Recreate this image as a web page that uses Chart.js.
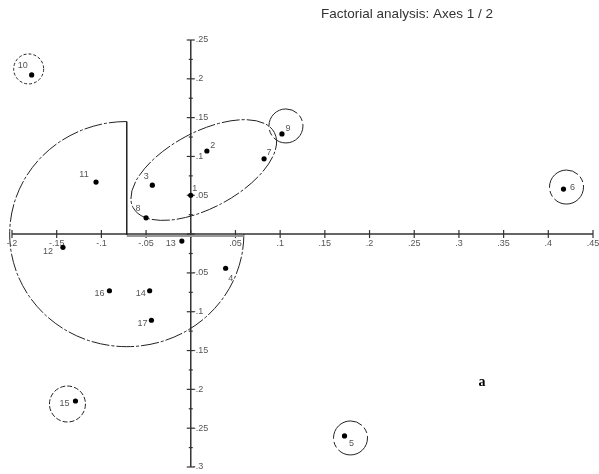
<!DOCTYPE html>
<html>
<head>
<meta charset="utf-8">
<script src="https://cdn.jsdelivr.net/npm/chart.js@4.4.0/dist/chart.umd.min.js"></script>
<style>
  html, body { margin: 0; padding: 0; background: #fff; }
  #wrap { position: relative; width: 599px; height: 474px; }
</style>
</head>
<body>
<div id="wrap"><canvas id="factChart"></canvas></div>
<script>
// Individuals projected on the first factorial plane
const pointNames = ['1', '2', '3', '4', '5', '6', '7', '8', '9', '10', '11', '12', '13', '14', '15', '16', '17'];
const axis1 = [0.000, 0.018, -0.043, 0.039, 0.172, 0.417, 0.082, -0.050, 0.102, -0.178, -0.106, -0.143, -0.010, -0.046, -0.129, -0.091, -0.044];
const axis2 = [0.050, 0.107, 0.063, -0.044, -0.260, 0.058, 0.097, 0.021, 0.129, 0.205, 0.067, -0.017, -0.009, -0.073, -0.215, -0.073, -0.111];

const xTickValues = [-0.2, -0.15, -0.1, -0.05, 0, 0.05, 0.1, 0.15, 0.2, 0.25, 0.3, 0.35, 0.4, 0.45];
const xTickLabels = ['-.2', '-.15', '-.1', '-.05', '', '.05', '.1', '.15', '.2', '.25', '.3', '.35', '.4', '.45'];
const yTickValues = [0.25, 0.2, 0.15, 0.1, 0.05, 0, -0.05, -0.1, -0.15, -0.2, -0.25, -0.3];
const yTickLabels = ['.25', '.2', '.15', '.1', '.05', '', '-.05', '-.1', '-.15', '-.2', '-.25', '-.3'];

// where each name sits relative to its dot (px)
const labelOffsets = {
  '1': [4, -7], '2': [6, -6], '3': [-6, -9], '4': [5, 10], '5': [7, 8],
  '6': [9, -2], '7': [5, -6], '8': [-8, -9], '9': [6, -5], '10': [-9, -9],
  '11': [-12, -8], '12': [-15, 4], '13': [-11, 2], '14': [-9, 3], '15': [-11, 3],
  '16': [-10, 3], '17': [-9, 3]
};

// outliers ringed by a small circle: [name, dx, dy, radius, dash]
const rings = [
  ['10', -3, -6, 15, [3, 2]],
  ['9', 4, -8, 17, [40, 3, 6, 3]],
  ['6', 3, -2, 17, [40, 3, 6, 3]],
  ['15', -8, 3, 18, [5, 2]],
  ['5', 6, 2, 17, [40, 3, 6, 3]]
];

const groupEllipse = { x: 0.0145, y: 0.0825, rx: 80, ry: 38, angle: -28 };
const groupSector = { x: -0.0716, y: 0, rx: 0.131, ry: 0.145 };

const pointData = pointNames.map((n, i) => ({ x: axis1[i], y: axis2[i] }));

function findLabel(values, labels, v) {
  for (let i = 0; i < values.length; i++) {
    if (Math.abs(values[i] - v) < 1e-6) return labels[i];
  }
  return null;
}

const planPlugin = {
  id: 'planPlugin',
  beforeDatasetsDraw(chart) {
    const ctx = chart.ctx;
    const xs = chart.scales.x, ys = chart.scales.y;
    const x0 = xs.getPixelForValue(0), y0 = ys.getPixelForValue(0);
    ctx.save();

    // axes crossing at the origin
    ctx.strokeStyle = '#333';
    ctx.lineWidth = 1.5;
    ctx.beginPath();
    ctx.moveTo(xs.getPixelForValue(xs.min), y0);
    ctx.lineTo(xs.getPixelForValue(xs.max), y0);
    ctx.moveTo(x0, ys.getPixelForValue(ys.max));
    ctx.lineTo(x0, ys.getPixelForValue(ys.min));
    ctx.stroke();

    ctx.font = '9px "Liberation Sans", Arial, sans-serif';
    ctx.fillStyle = '#555';
    ctx.lineWidth = 1.2;
    xs.ticks.forEach(t => {
      const px = xs.getPixelForValue(t.value);
      const lab = findLabel(xTickValues, xTickLabels, t.value);
      const h = lab !== null ? 4 : 2;
      ctx.beginPath();
      ctx.moveTo(px, y0 - h);
      ctx.lineTo(px, y0 + h);
      ctx.stroke();
      if (lab) {
        ctx.textAlign = 'center';
        ctx.textBaseline = 'middle';
        ctx.fillText(lab, px, y0 + 9);
      }
    });
    ys.ticks.forEach(t => {
      const py = ys.getPixelForValue(t.value);
      const lab = findLabel(yTickValues, yTickLabels, t.value);
      const h = lab !== null ? 4 : 2;
      ctx.beginPath();
      ctx.moveTo(x0 - h, py);
      ctx.lineTo(x0 + h, py);
      ctx.stroke();
      if (lab) {
        ctx.textAlign = 'left';
        ctx.textBaseline = 'middle';
        ctx.fillText(lab, x0 + (lab[0] === '-' ? 2 : 5), py);
      }
    });

    ctx.strokeStyle = '#222';
    ctx.lineWidth = 1;

    // three-quarter sector on the left
    const scx = xs.getPixelForValue(groupSector.x), scy = ys.getPixelForValue(groupSector.y);
    const srx = xs.getPixelForValue(groupSector.x + groupSector.rx) - scx;
    const sry = scy - ys.getPixelForValue(groupSector.y + groupSector.ry);
    ctx.setLineDash([18, 2, 3, 2]);
    ctx.beginPath();
    ctx.ellipse(scx, scy, srx, sry, 0, -Math.PI / 2, 0, true);
    ctx.stroke();
    ctx.setLineDash([]);
    ctx.lineWidth = 1.5;
    ctx.beginPath();
    ctx.moveTo(scx, scy - sry);
    ctx.lineTo(scx, scy + 1);
    ctx.stroke();
    ctx.strokeStyle = '#999';
    ctx.lineWidth = 2;
    ctx.beginPath();
    ctx.moveTo(scx, scy + 2);
    ctx.lineTo(scx + srx, scy + 2);
    ctx.stroke();

    // tilted ellipse round the central group
    ctx.strokeStyle = '#222';
    ctx.lineWidth = 1;
    ctx.setLineDash([18, 2, 3, 2]);
    ctx.beginPath();
    ctx.ellipse(xs.getPixelForValue(groupEllipse.x), ys.getPixelForValue(groupEllipse.y),
      groupEllipse.rx, groupEllipse.ry, groupEllipse.angle * Math.PI / 180, 0, Math.PI * 2);
    ctx.stroke();

    // rings round the isolated individuals
    rings.forEach(([name, dx, dy, r, dash]) => {
      const i = pointNames.indexOf(name);
      const px = xs.getPixelForValue(axis1[i]) + dx;
      const py = ys.getPixelForValue(axis2[i]) + dy;
      ctx.setLineDash(dash);
      ctx.beginPath();
      ctx.arc(px, py, r, 0, Math.PI * 2);
      ctx.stroke();
    });
    ctx.restore();
  },
  afterDatasetsDraw(chart) {
    const ctx = chart.ctx;
    const meta = chart.getDatasetMeta(0);
    ctx.save();
    ctx.font = '9px "Liberation Sans", Arial, sans-serif';
    ctx.fillStyle = '#555';
    ctx.textAlign = 'center';
    ctx.textBaseline = 'middle';
    meta.data.forEach((el, i) => {
      const off = labelOffsets[pointNames[i]] || [6, -6];
      ctx.fillText(pointNames[i], el.x + off[0], el.y + off[1]);
    });

    ctx.fillStyle = '#333';
    ctx.font = '13.5px "Liberation Sans", Arial, sans-serif';
    ctx.fillText('Factorial analysis: Axes 1 / 2', 407, 14);
    ctx.fillStyle = '#000';
    ctx.font = 'bold 14px "Liberation Serif", "Times New Roman", serif';
    ctx.fillText('a', 482, 382);
    ctx.restore();
  }
};

new Chart(document.getElementById('factChart'), {
  type: 'scatter',
  data: {
    datasets: [{
      label: 'Individuals',
      data: pointData,
      backgroundColor: '#000',
      borderColor: '#000',
      pointRadius: 2.6,
      pointHoverRadius: 2.6,
      borderWidth: 0
    }]
  },
  options: {
    responsive: true,
    maintainAspectRatio: false,
    animation: false,
    events: [],
    layout: { padding: { left: 12, right: 6, top: 40, bottom: 7 } },
    plugins: {
      legend: { display: false },
      tooltip: { enabled: false }
    },
    scales: {
      x: {
        type: 'linear',
        display: false,
        min: -0.2,
        max: 0.45,
        ticks: { stepSize: 0.025 }
      },
      y: {
        type: 'linear',
        display: false,
        min: -0.3,
        max: 0.25,
        ticks: { stepSize: 0.025 }
      }
    }
  },
  plugins: [planPlugin]
});
</script>
</body>
</html>
